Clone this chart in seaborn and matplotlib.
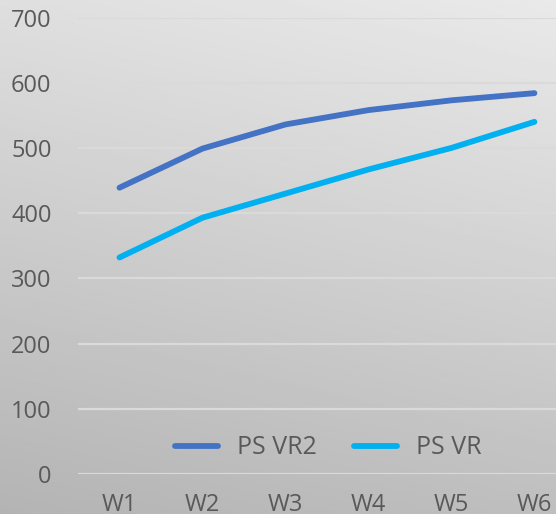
import matplotlib
matplotlib.use("Agg")
import matplotlib.pyplot as plt
import numpy as np
import pandas as pd
import seaborn as sns

WEEKS = ["W1", "W2", "W3", "W4", "W5", "W6"]
PS_VR2 = [439, 499, 536, 558, 573, 584]
PS_VR = [332, 393, 430, 467, 500, 540]
SERIES = ["PS VR2", "PS VR"]
COLORS = ["#4472C4", "#00B0F0"]
YTICKS = [0, 100, 200, 300, 400, 500, 600, 700]

df = pd.DataFrame({
    "week": WEEKS * 2,
    "value": PS_VR2 + PS_VR,
    "series": [SERIES[0]] * len(WEEKS) + [SERIES[1]] * len(WEEKS),
})

plt.rcParams["font.family"] = ["Open Sans", "DejaVu Sans"]
TEXT = "#595959"
FS = 17

fig = plt.figure(figsize=(5.56, 5.14), dpi=100)

# gradient background (light top-right, darker bottom-left)
bg = fig.add_axes([0, 0, 1, 1], zorder=0)
yy, xx = np.mgrid[0:1:200j, 0:1:200j]
t = 0.8 * yy + 0.2 * (1 - xx)
shade = 0.915 - 0.21 * t
bg.imshow(shade, cmap="gray", vmin=0, vmax=1, aspect="auto", extent=[0, 1, 0, 1])
bg.axis("off")

ax = fig.add_axes([78 / 556, 40 / 514, 478 / 556, 456.5 / 514], zorder=1)
ax.patch.set_alpha(0)

sns.lineplot(data=df, x="week", y="value", hue="series", hue_order=SERIES,
             palette=COLORS, linewidth=4.2, sort=False, ax=ax,
             solid_capstyle="round")

ax.set_ylim(0, 700)
ax.set_xlim(-0.5, 5.26)
ax.set_yticks(YTICKS)
ax.grid(axis="y", color="#dadada", linewidth=1.6)
ax.set_axisbelow(True)
for s in ax.spines.values():
    s.set_visible(False)
ax.tick_params(length=0, labelsize=FS, labelcolor=TEXT)
ax.tick_params(axis="y", pad=19)
ax.tick_params(axis="x", pad=14)
ax.set_xlabel("")
ax.set_ylabel("")

ax.legend(ncol=2, loc="center", bbox_to_anchor=(328 / 556, 1 - 448 / 514),
          bbox_transform=fig.transFigure, frameon=False, fontsize=18,
          labelcolor=TEXT, handlelength=1.72, handletextpad=0.75,
          columnspacing=1.5)

fig.savefig("out.png", dpi=100)
